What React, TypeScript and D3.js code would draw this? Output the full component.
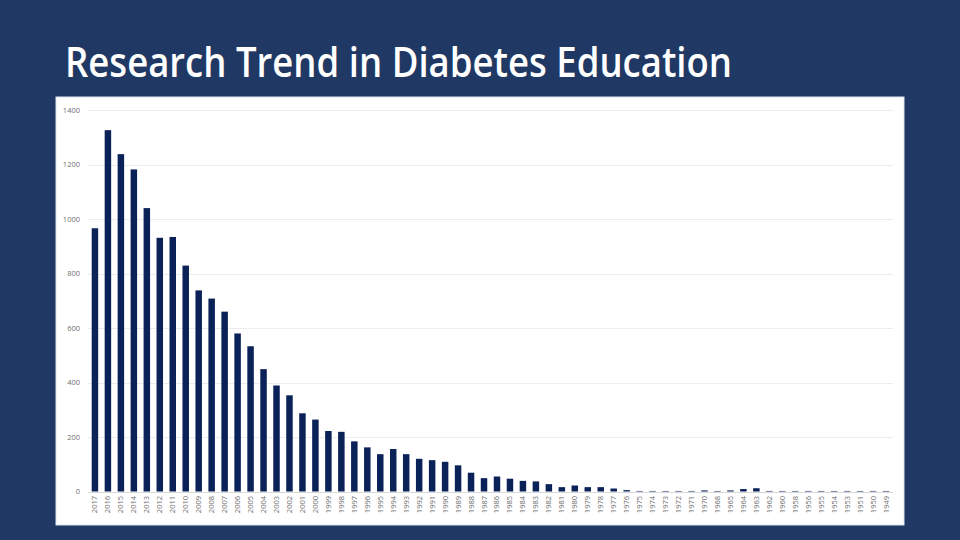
import React from "react";
import * as d3 from "d3";

const years = [
  "2017","2016","2015","2014","2013","2012","2011","2010","2009","2008",
  "2007","2006","2005","2004","2003","2002","2001","2000","1999","1998",
  "1997","1996","1995","1994","1993","1992","1991","1990","1989","1988",
  "1987","1986","1985","1984","1983","1982","1981","1980","1979","1978",
  "1977","1976","1975","1974","1973","1972","1971","1970","1968","1965",
  "1964","1963","1962","1960","1958","1956","1955","1954","1953","1951",
  "1950","1949"
];

const counts = [
  966,1326,1238,1182,1040,931,934,829,738,708,
  660,580,533,449,389,353,287,264,222,219,
  184,162,137,156,137,120,115,109,96,69,
  49,55,47,39,37,27,16,22,16,16,
  11,5,2,2,2,2,2,4,2,4,
  9,12,2,2,2,2,2,2,2,2,
  2,2
];

const yTicks = [0, 200, 400, 600, 800, 1000, 1200, 1400];

const title = "Research Trend in Diabetes Education";

export default function App() {
  const W = 960;
  const H = 540;
  const x = d3
    .scaleBand<string>()
    .domain(years)
    .range([88, 893])
    .paddingInner(0.5)
    .paddingOuter(0.285);
  const y = d3.scaleLinear().domain([0, 1400]).range([491.5, 110]);

  return (
    <svg
      width={W}
      height={H}
      style={{ position: "absolute", left: 0, top: 0, display: "block" }}
    >
      <rect x={0} y={0} width={W} height={H} fill="#203864" />
      <text
        x={65}
        y={77}
        fill="#ffffff"
        fontFamily="'Open Sans', 'Noto Sans', sans-serif"
        fontSize={42}
        fontWeight={600}
        textLength={667}
        lengthAdjust="spacingAndGlyphs"
      >
        {title}
      </text>
      <rect x={56} y={97} width={848} height={428} fill="#ffffff" stroke="#dbe5f1" strokeWidth={1} />
      {yTicks.map((t) => (
        <g key={t}>
          <line
            x1={88}
            x2={893}
            y1={Math.round(y(t)) + 0.5}
            y2={Math.round(y(t)) + 0.5}
            stroke={t === 0 ? "#d9d9d9" : "#ececec"}
            strokeWidth={1}
          />
          <text
            x={80}
            y={y(t) + 2.5}
            textAnchor="end"
            fill="#707070"
            fontFamily="'Open Sans', sans-serif"
            fontSize={7.5}
          >
            {t}
          </text>
        </g>
      ))}
      {years.map((yr, i) => (
        <rect
          key={yr}
          x={x(yr)!}
          y={y(counts[i])}
          width={x.bandwidth()}
          height={Math.max(0, y(0) - y(counts[i]))}
          fill="#0a2258"
        />
      ))}
      {years.map((yr) => {
        const cx = x(yr)! + x.bandwidth() / 2;
        return (
          <text
            key={"l" + yr}
            transform={`translate(${cx + 2.5},${496}) rotate(-90)`}
            textAnchor="end"
            fill="#707070"
            fontFamily="'Open Sans', sans-serif"
            fontSize={7.5}
          >
            {yr}
          </text>
        );
      })}
    </svg>
  );
}
